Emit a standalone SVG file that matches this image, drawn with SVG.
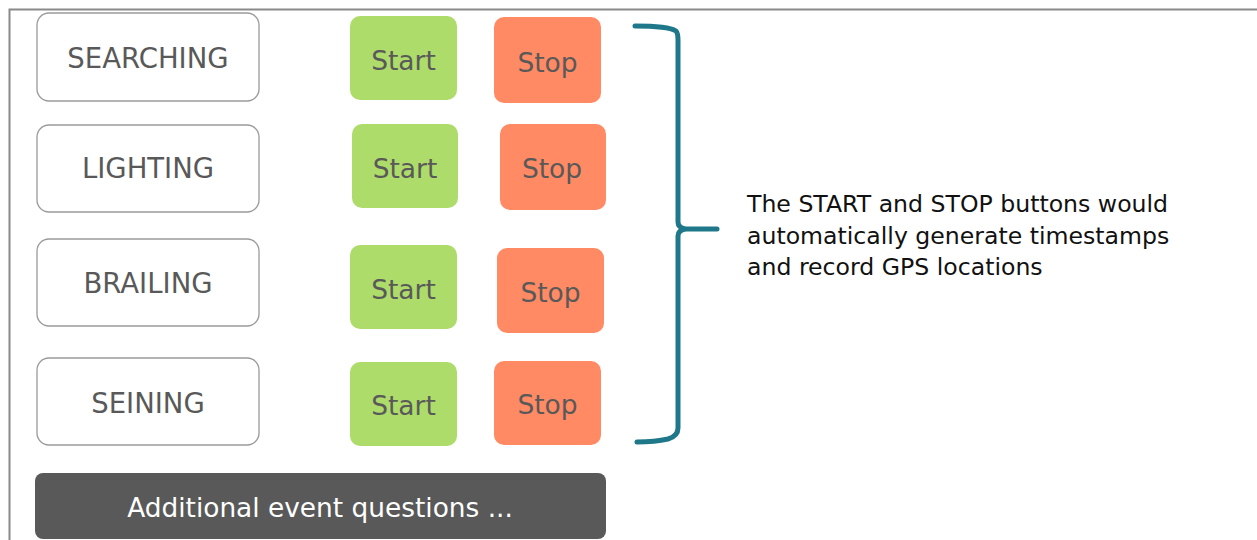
<svg xmlns="http://www.w3.org/2000/svg" width="1257" height="540" viewBox="0 0 1257 540">
<style>
.lbl{fill:#fff;stroke:#9a9a9a;stroke-width:1.3}
.start{fill:#AEDC6A}
.stop{fill:#FF8A63}
.t{font-family:"DejaVu Sans",Verdana,sans-serif;fill:#595959;text-anchor:middle;dominant-baseline:central}
.big{font-size:27.5px}
.btn{font-size:26.5px}
.note{font-family:"DejaVu Sans",Verdana,sans-serif;font-size:23.6px;fill:#111}
</style>
<rect width="1257" height="540" fill="#fff"/>
<path d="M9.5,545 V9.5 H1260" fill="none" stroke="#8a8a8a" stroke-width="2"/>
<g id="searching"><rect class="lbl" x="37" y="13" width="222" height="88" rx="12"/><text class="t big" x="148" y="58">SEARCHING</text></g>
<g id="lighting"><rect class="lbl" x="37" y="125" width="222" height="87" rx="12"/><text class="t big" x="148" y="168">LIGHTING</text></g>
<g id="brailing"><rect class="lbl" x="37" y="239" width="222" height="87" rx="12"/><text class="t big" x="148" y="283">BRAILING</text></g>
<g id="seining"><rect class="lbl" x="37" y="358" width="222" height="87" rx="12"/><text class="t big" x="148" y="403">SEINING</text></g>
<g id="start1"><rect class="start" x="350" y="16" width="107" height="84" rx="10"/><text class="t btn" x="403.5" y="60">Start</text></g>
<g id="stop1"><rect class="stop" x="494" y="17" width="107" height="86" rx="10"/><text class="t btn" x="547.5" y="62">Stop</text></g>
<g id="start2"><rect class="start" x="352" y="124" width="106" height="84" rx="10"/><text class="t btn" x="405" y="168">Start</text></g>
<g id="stop2"><rect class="stop" x="500" y="124" width="106" height="86" rx="10"/><text class="t btn" x="552" y="168">Stop</text></g>
<g id="start3"><rect class="start" x="350" y="245" width="107" height="84" rx="10"/><text class="t btn" x="403.5" y="289">Start</text></g>
<g id="stop3"><rect class="stop" x="497" y="248" width="107" height="85" rx="10"/><text class="t btn" x="550.5" y="292">Stop</text></g>
<g id="start4"><rect class="start" x="350" y="362" width="107" height="84" rx="10"/><text class="t btn" x="403.5" y="405">Start</text></g>
<g id="stop4"><rect class="stop" x="494" y="361" width="107" height="84" rx="10"/><text class="t btn" x="547.5" y="404">Stop</text></g>
<g id="additional"><rect x="35" y="473" width="571" height="66" rx="8" fill="#595959"/><text class="t" x="320" y="507" style="fill:#fff;font-size:26.4px">Additional event questions ...</text></g>
<g id="connectors">
<path d="M635,26 Q668,26 676,31 Q678,33 678,40 V222 Q678,228 686,229 H717 M686,229 Q678,230 678,236 V428 Q678,436 668,439 Q655,442 637,442" fill="none" stroke="#1E7889" stroke-width="5" stroke-linecap="round" stroke-linejoin="round"/>
</g>
<g id="note" class="note">
<text x="747" y="212">The START and STOP buttons would</text>
<text x="747" y="244">automatically generate timestamps</text>
<text x="747" y="275">and record GPS locations</text>
</g>
</svg>
